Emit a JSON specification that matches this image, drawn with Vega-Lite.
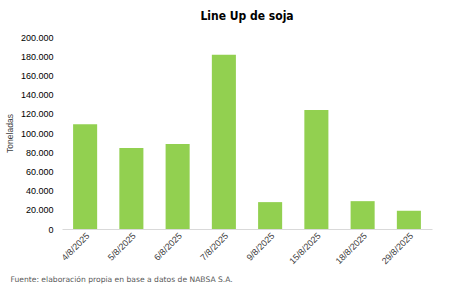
{
  "$schema": "https://vega.github.io/schema/vega-lite/v6.json",
  "autosize": "none",
  "width": 370,
  "height": 192,
  "padding": {"left": 62, "top": 37, "right": 18, "bottom": 63},
  "background": "white",
  "config": {
    "locale": {"number": {"decimal": ",", "thousands": ".", "grouping": [3], "currency": ["$", ""]}},
    "view": {"stroke": null},
    "font": "Liberation Sans"
  },
  "title": {
    "text": "Line Up de soja",
    "font": "DejaVu Sans Condensed",
    "fontSize": 12,
    "fontWeight": "bold",
    "color": "#000000",
    "anchor": "middle",
    "offset": 10
  },
  "data": {
    "values": [
      {"fecha": "4/8/2025", "toneladas": 109000},
      {"fecha": "5/8/2025", "toneladas": 84500},
      {"fecha": "6/8/2025", "toneladas": 88500},
      {"fecha": "7/8/2025", "toneladas": 181500},
      {"fecha": "9/8/2025", "toneladas": 28000},
      {"fecha": "15/8/2025", "toneladas": 124000},
      {"fecha": "18/8/2025", "toneladas": 29000},
      {"fecha": "29/8/2025", "toneladas": 19000}
    ]
  },
  "mark": {"type": "bar", "color": "#92D050"},
  "encoding": {
    "x": {
      "field": "fecha",
      "type": "ordinal",
      "sort": null,
      "scale": {"paddingInner": 0.48, "paddingOuter": 0.24},
      "axis": {
        "title": "Fuente: elaboración propia en base a datos de NABSA S.A.",
        "titleFont": "DejaVu Sans",
        "titleFontSize": 7.6,
        "titleFontWeight": "normal",
        "titleColor": "#595959",
        "titleAnchor": "start",
        "titleAlign": "left",
        "titleX": -52,
        "titleY": 46,
        "labelAngle": -45,
        "labelFontSize": 9,
        "labelColor": "#404040",
        "labelPadding": 2,
        "labelOverlap": false,
        "ticks": false,
        "domainColor": "#d9d9d9",
        "grid": false
      }
    },
    "y": {
      "field": "toneladas",
      "type": "quantitative",
      "scale": {"domain": [0, 200000]},
      "axis": {
        "title": "Toneladas",
        "titleFontSize": 8.5,
        "titleFontWeight": "normal",
        "titleColor": "#404040",
        "titlePadding": 6,
        "format": ",d",
        "values": [0, 20000, 40000, 60000, 80000, 100000, 120000, 140000, 160000, 180000, 200000],
        "labelFontSize": 9,
        "labelColor": "#000000",
        "labelPadding": 9,
        "labelOverlap": false,
        "ticks": false,
        "domain": false,
        "grid": false
      }
    }
  }
}
